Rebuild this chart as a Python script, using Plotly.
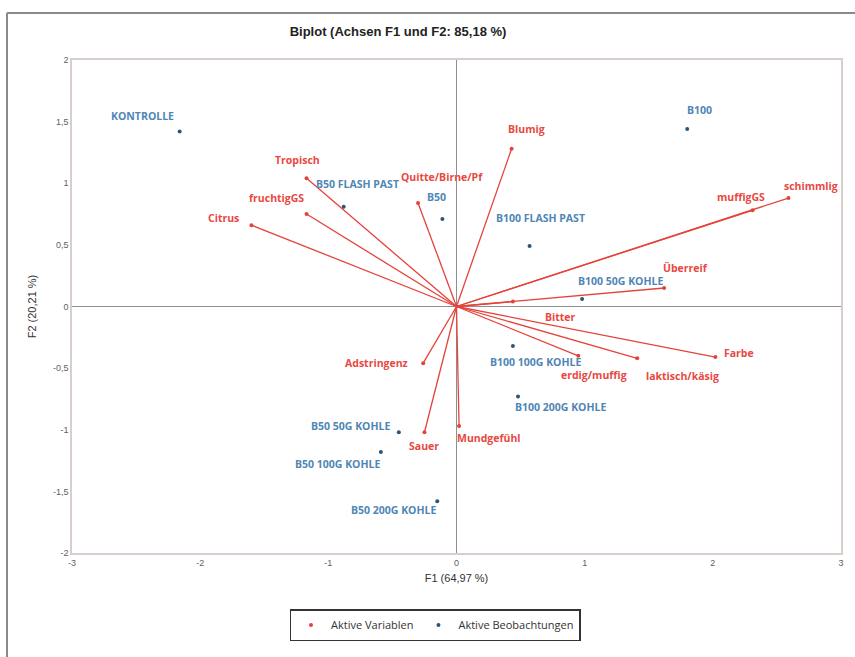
import plotly.graph_objects as go

# ---- data ----
obs_names = ["KONTROLLE", "B100", "B50 FLASH PAST", "B50", "B100 FLASH PAST",
             "B100 50G KOHLE", "B100 100G KOHLE", "B100 200G KOHLE",
             "B50 50G KOHLE", "B50 100G KOHLE", "B50 200G KOHLE"]
obs_f1 = [-2.16, 1.80, -0.88, -0.11, 0.57, 0.98, 0.44, 0.48, -0.45, -0.59, -0.15]
obs_f2 = [1.42, 1.44, 0.81, 0.71, 0.49, 0.06, -0.32, -0.73, -1.02, -1.18, -1.58]

var_names = ["Blumig", "Tropisch", "fruchtigGS", "Citrus", "Quitte/Birne/Pf",
             "muffigGS", "schimmlig", "Überreif", "Bitter", "Farbe",
             "laktisch/käsig", "erdig/muffig", "Adstringenz", "Sauer", "Mundgefühl"]
var_f1 = [0.43, -1.17, -1.17, -1.60, -0.30, 2.31, 2.59, 1.62, 0.44, 2.02,
          1.41, 0.95, -0.26, -0.25, 0.02]
var_f2 = [1.28, 1.04, 0.75, 0.66, 0.84, 0.78, 0.88, 0.15, 0.04, -0.41,
          -0.42, -0.40, -0.46, -1.02, -0.97]

x_ticks = [-3, -2, -1, 0, 1, 2, 3]
x_tick_text = ["-3", "-2", "-1", "0", "1", "2", "3"]
y_ticks = [2, 1.5, 1, 0.5, 0, -0.5, -1, -1.5, -2]
y_tick_text = ["2", "1,5", "1", "0,5", "0", "-0,5", "-1", "-1,5", "-2"]

# ---- label offsets (pixels) ----
obs_off = [(-37, 15), (12, 19), (14, 23), (-6, 22), (11, 28), (38, 18),
           (23, -16), (42, -11), (-48, 6), (-43, -12), (-44, -9)]
var_off = [(15, 20), (-9, 18), (-30, 16), (-28, 7), (24, 26), (-12, 13),
           (23, 12), (21, 20), (48, -15), (24, 4), (45, -18), (16, -19),
           (-47, 0), (0, -14), (30, -12)]

RED = "#e5433a"
RED_TXT = "#e8483f"
BLUE_PT = "#2f5575"
BLUE_TXT = "#4f86b5"
LABEL_FONT = "Open Sans"
NARROW = "Liberation Sans Narrow, Liberation Sans, Arial"

fig = go.Figure()

# vector lines
lx, ly = [], []
for a, b in zip(var_f1, var_f2):
    lx += [0, a, None]
    ly += [0, b, None]
fig.add_trace(go.Scatter(x=lx, y=ly, mode="lines",
                         line=dict(color=RED, width=1.3),
                         showlegend=False, hoverinfo="skip"))
fig.add_trace(go.Scatter(x=var_f1, y=var_f2, mode="markers",
                         marker=dict(color=RED, size=4),
                         name="Aktive Variablen", text=var_names))
fig.add_trace(go.Scatter(x=obs_f1, y=obs_f2, mode="markers",
                         marker=dict(color=BLUE_PT, size=4),
                         name="Aktive Beobachtungen", text=obs_names))

annotations = []
for n, a, b, (dx, dy) in zip(obs_names, obs_f1, obs_f2, obs_off):
    annotations.append(dict(x=a, y=b, text=n, showarrow=False, xshift=dx, yshift=dy,
                            font=dict(family=LABEL_FONT, size=10.5, color=BLUE_TXT, weight="bold")))
for n, a, b, (dx, dy) in zip(var_names, var_f1, var_f2, var_off):
    annotations.append(dict(x=a, y=b, text=n, showarrow=False, xshift=dx, yshift=dy,
                            font=dict(family=LABEL_FONT, size=10.5, color=RED_TXT, weight="bold")))

W, H = 855, 657
L, R, T, B = 72, 14, 60, 104
pw, ph = W - L - R, H - T - B

def px(x):
    return (x - L) / pw

def py(y):
    return (H - B - y) / ph

shapes = [
    dict(type="line", xref="paper", yref="paper", x0=px(7), x1=px(856), y0=py(13), y1=py(13),
         line=dict(color="#8a8a8a", width=2)),
    dict(type="line", xref="paper", yref="paper", x0=px(7), x1=px(7), y0=py(13), y1=py(660),
         line=dict(color="#8a8a8a", width=2)),
]

axis_common = dict(showgrid=False, zeroline=True, zerolinecolor="#8f8f8f", zerolinewidth=1,
                   showline=True, mirror=True, linecolor="#d8cfcb", linewidth=1.5,
                   ticks="", tickfont=dict(family=NARROW, size=9, color="#606060"))

fig.update_layout(
    width=W, height=H,
    margin=dict(l=L, r=R, t=T, b=B, autoexpand=False),
    paper_bgcolor="white", plot_bgcolor="white",
    title=dict(text="Biplot (Achsen F1 und F2: 85,18 %)", x=px(430), xanchor="center",
               y=1 - 31 / H, yanchor="middle",
               font=dict(family=NARROW, size=13, color="#222222", weight="bold")),
    xaxis=dict(range=[-3, 3], tickvals=x_ticks, ticktext=x_tick_text,
               title=dict(text="F1 (64,97 %)", standoff=8,
                          font=dict(family=NARROW, size=11, color="#333333")),
               **axis_common),
    yaxis=dict(range=[-2, 2], tickvals=y_ticks, ticktext=y_tick_text,
               title=dict(text="F2 (20,21 %)", standoff=14,
                          font=dict(family=NARROW, size=11, color="#333333")),
               **axis_common),
    legend=dict(orientation="h", x=px(435), xanchor="center", y=py(609), yanchor="top",
                bordercolor="#333333", borderwidth=1.5, bgcolor="white",
                font=dict(family=LABEL_FONT, size=11, color="#333333"),
                itemwidth=30),
    annotations=annotations,
    shapes=shapes,
    showlegend=True,
)

fig.write_html("out.html", config={"displayModeBar": False},
               post_script="document.body.style.margin='0px';document.body.style.overflow='hidden';")
